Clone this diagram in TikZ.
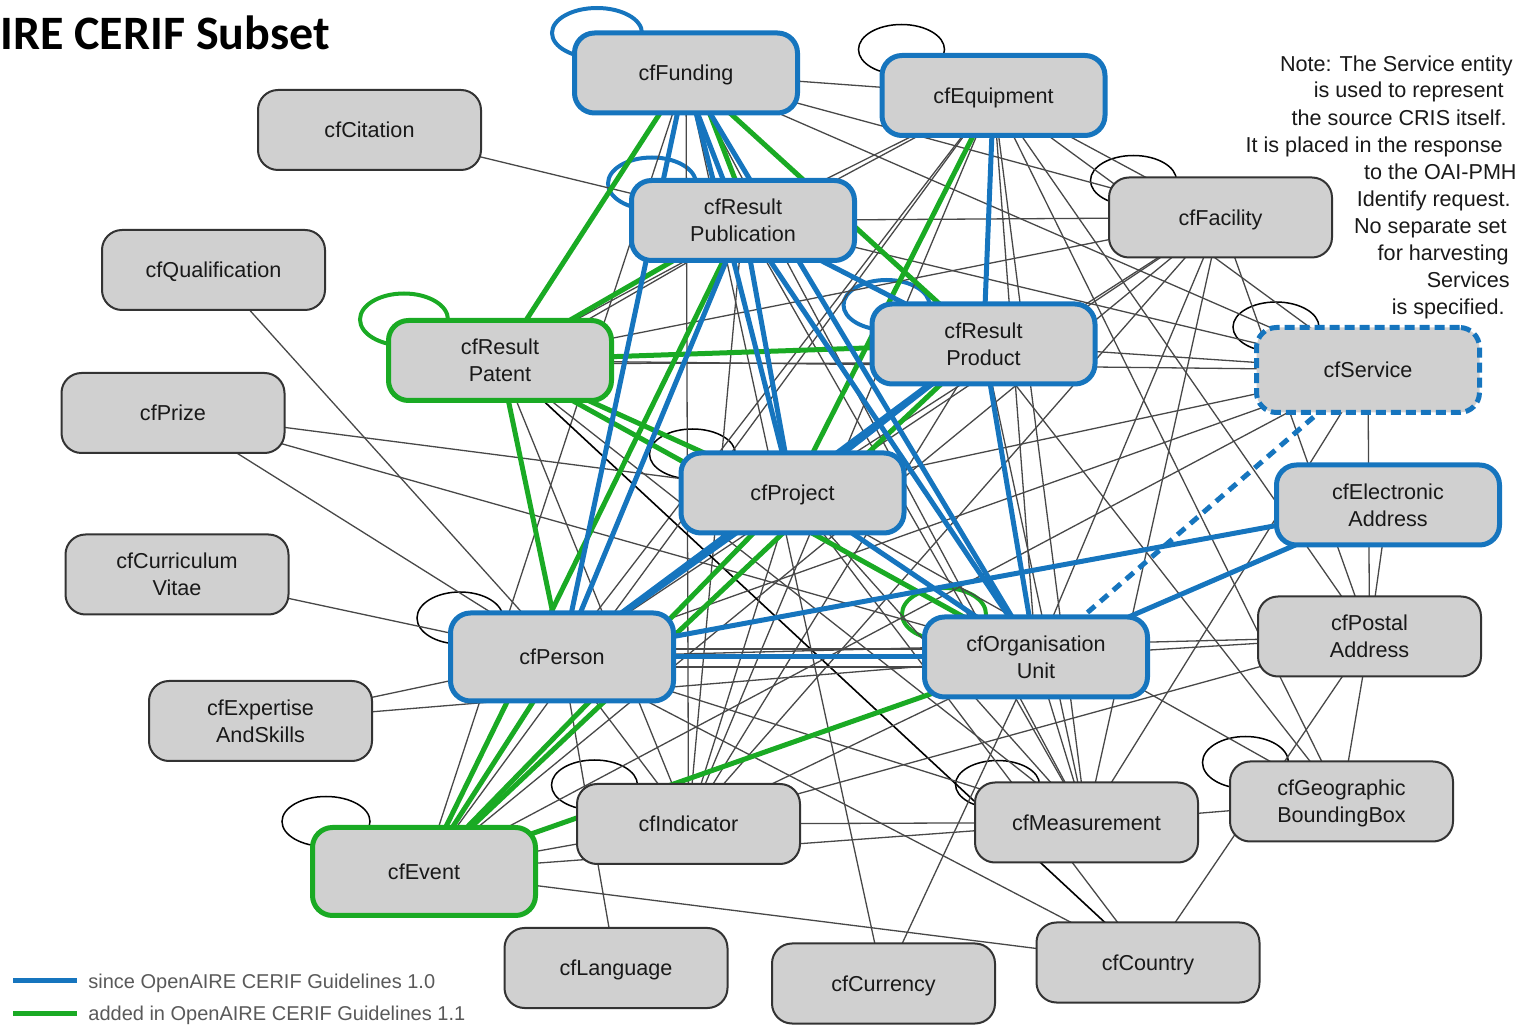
\documentclass[tikz,border=0pt]{standalone}
\usepackage{fontspec}
\setmainfont{Liberation Sans}
\newfontfamily\titlefont{Carlito}
\usetikzlibrary{backgrounds}
\definecolor{cblue}{RGB}{22,117,190}
\definecolor{cgreen}{RGB}{26,170,36}
\definecolor{boxfill}{RGB}{208,208,208}
\definecolor{boxline}{RGB}{51,51,51}
\definecolor{edgegray}{RGB}{72,72,72}
\definecolor{legendtext}{RGB}{89,89,89}
\newcommand\cfnodefont{\fontsize{10.8}{13.5}\selectfont}
\newcommand\Lk[3]{\draw[#1] (#2.center) -- (#3.center);}
\begin{document}
\begin{tikzpicture}[x=0.5pt,y=-0.5pt,
  box/.style={rounded corners=10pt, fill=boxfill, minimum width=111.5pt, minimum height=40pt, inner sep=0pt, align=center, font=\cfnodefont, text=black!90, text height=7.7pt, text depth=0pt},
  twol/.style={text height=21.2pt},
  gbox/.style={box, draw=boxline, line width=1pt},
  bbox/.style={box, draw=cblue, line width=2.5pt},
  grbox/.style={box, draw=cgreen, line width=2.5pt},
  sbox/.style={box, draw=cblue, line width=2.5pt, dash pattern=on 5pt off 2.5pt},
  ge/.style={draw=edgegray, line width=0.65pt},
  de/.style={draw=black, line width=0.8pt},
  be/.style={draw=cblue, line width=2.5pt},
  gre/.style={draw=cgreen, line width=2.5pt},
  bde/.style={draw=cblue, line width=2.5pt, dash pattern=on 5pt off 3.5pt},
  loopk/.style={draw=black, line width=0.75pt},
  loopb/.style={draw=cblue, line width=2pt},
  loopg/.style={draw=cgreen, line width=2pt},
  note/.style={anchor=base east, inner sep=0pt, font=\cfnodefont, text=black!90},
  legtext/.style={anchor=base west, inner sep=0pt, font=\fontsize{10}{12}\selectfont, text=legendtext}
]
\useasboundingbox (0,0) rectangle (1523,1026);

% title
\node[anchor=base west, inner sep=0pt, font=\titlefont\bfseries\fontsize{24}{28}\selectfont] (title) at (0,50) {IRE CERIF Subset};

% nodes
\node[bbox] (fund) at (686,73) {cfFunding};
\node[bbox] (equip) at (993.5,95.5) {cfEquipment};
\node[gbox] (cit) at (369.5,130) {cfCitation};
\node[bbox, twol] (pub) at (743,220.5) {cfResult\\Publication};
\node[gbox] (fac) at (1220.5,217.5) {cfFacility};
\node[gbox] (qual) at (213.5,270) {cfQualification};
\node[grbox, twol] (pat) at (500,360.5) {cfResult\\Patent};
\node[bbox, twol] (prod) at (983.5,344) {cfResult\\Product};
\node[sbox, minimum height=42.5pt] (serv) at (1368,370) {cfService};
\node[gbox] (prize) at (173,413) {cfPrize};
\node[bbox] (proj) at (792.5,493) {cfProject};
\node[bbox, twol] (elec) at (1388,505) {cfElectronic\\Address};
\node[gbox, twol] (cv) at (177,574.5) {cfCurriculum\\Vitae};
\node[bbox, minimum height=44pt] (pers) at (562,657) {cfPerson};
\node[bbox, twol] (org) at (1036,657) {cfOrganisation\\Unit};
\node[gbox, twol] (post) at (1369.5,636.5) {cfPostal\\Address};
\node[gbox, twol] (exp) at (260.5,721) {cfExpertise\\AndSkills};
\node[gbox] (ind) at (688.5,824) {cfIndicator};
\node[gbox] (meas) at (1086.5,822.5) {cfMeasurement};
\node[gbox, twol] (geo) at (1341.5,801.5) {cfGeographic\\BoundingBox};
\node[grbox, minimum height=44pt] (event) at (424,871.5) {cfEvent};
\node[gbox] (lang) at (616,968) {cfLanguage};
\node[gbox] (curr) at (883.5,983.5) {cfCurrency};
\node[gbox] (country) at (1148,962.5) {cfCountry};

% note
\node[note] (n1) at (1513,72) {Note: The Service entity};
\node[note] (n2) at (1504,98) {is used to represent};
\node[note] (n3) at (1507,126) {the source CRIS itself.};
\node[note] (n4) at (1503,153) {It is placed in the response};
\node[note] (n5) at (1517,180) {to the OAI-PMH};
\node[note] (n6) at (1511,207) {Identify request.};
\node[note] (n7) at (1507,234) {No separate set};
\node[note] (n8) at (1509,261) {for harvesting};
\node[note] (n9) at (1510,288) {Services};
\node[note] (n10) at (1505,315) {is specified.};

% legend
\coordinate (lb1) at (13,980);
\coordinate (lb2) at (77,980);
\coordinate (lg1) at (13,1013);
\coordinate (lg2) at (77,1013);
\draw[be] (lb1) -- (lb2);
\draw[gre] (lg1) -- (lg2);
\node[legtext] (leg1) at (88,988) {since OpenAIRE CERIF Guidelines 1.0};
\node[legtext] (leg2) at (88,1021) {added in OpenAIRE CERIF Guidelines 1.1};

\begin{scope}[on background layer]
% self loops
\draw[loopb] ([shift={(-89,-40)}]fund.center) ellipse [x radius=45, y radius=25];
\draw[loopk] ([shift={(-92,-46)}]equip.center) ellipse [x radius=43, y radius=25];
\draw[loopb] ([shift={(-91,-37)}]pub.center) ellipse [x radius=44, y radius=26];
\draw[loopk] ([shift={(-87,-37)}]fac.center) ellipse [x radius=43, y radius=25];
\draw[loopg] ([shift={(-96,-41)}]pat.center) ellipse [x radius=44, y radius=26];
\draw[loopb] ([shift={(-97,-39)}]prod.center) ellipse [x radius=43, y radius=25];
\draw[loopk] ([shift={(-92,-43)}]serv.center) ellipse [x radius=43, y radius=25];
\draw[loopk] ([shift={(-100,-39)}]proj.center) ellipse [x radius=43, y radius=25];
\draw[loopk] ([shift={(-102,-39)}]pers.center) ellipse [x radius=43, y radius=26];
\draw[loopg] ([shift={(-92,-43)}]org.center) ellipse [x radius=42, y radius=26];
\draw[loopk] ([shift={(-94,-39)}]ind.center) ellipse [x radius=43, y radius=25];
\draw[loopk] ([shift={(-89,-38)}]meas.center) ellipse [x radius=42, y radius=24];
\draw[loopk] ([shift={(-96,-39)}]geo.center) ellipse [x radius=43, y radius=26];
\draw[loopk] ([shift={(-98,-50)}]event.center) ellipse [x radius=44, y radius=25];

% gray edges
\Lk{ge}{fund}{equip} \Lk{ge}{fund}{fac} \Lk{ge}{fund}{serv} \Lk{ge}{fund}{ind}
\Lk{ge}{fund}{curr} \Lk{ge}{fund}{meas} \Lk{ge}{fund}{event}
\Lk{ge}{equip}{pub} \Lk{ge}{equip}{pat} \Lk{ge}{equip}{pers} \Lk{ge}{equip}{ind}
\Lk{ge}{equip}{org} \Lk{ge}{equip}{meas} \Lk{ge}{equip}{serv} \Lk{ge}{equip}{fac}
\Lk{ge}{equip}{geo} \Lk{ge}{equip}{post}
\Lk{ge}{cit}{pub}
\Lk{ge}{pub}{fac} \Lk{ge}{pub}{serv} \Lk{ge}{pub}{meas} \Lk{ge}{pub}{ind}
\draw[ge] ([shift={(10,4)}]pub.center) -- ([shift={(10,4)}]pat.center);
\Lk{ge}{fac}{pat} \Lk{ge}{fac}{proj} \Lk{ge}{fac}{pers} \Lk{ge}{fac}{event}
\Lk{ge}{fac}{ind} \Lk{ge}{fac}{org} \Lk{ge}{fac}{meas} \Lk{ge}{fac}{post}
\Lk{ge}{prod}{serv} \Lk{ge}{prod}{geo} \Lk{ge}{prod}{ind} \Lk{ge}{prod}{meas}
\draw[ge] ([shift={(0,3)}]pat.center) -- ([shift={(0,19)}]prod.center);
\Lk{ge}{pat}{serv} \Lk{ge}{pat}{ind} \Lk{ge}{pat}{meas}
\Lk{de}{pat}{country}
\Lk{ge}{serv}{proj} \Lk{ge}{serv}{pers} \Lk{ge}{serv}{meas} \Lk{ge}{serv}{post}
\Lk{ge}{serv}{event}
\Lk{ge}{proj}{prize} \Lk{ge}{proj}{ind} \Lk{ge}{proj}{meas} \Lk{ge}{proj}{country}
\Lk{ge}{proj}{geo}
\Lk{ge}{pers}{qual} \Lk{ge}{pers}{prize} \Lk{ge}{pers}{cv} \Lk{ge}{pers}{exp}
\Lk{ge}{pers}{country} \Lk{ge}{pers}{lang} \Lk{ge}{pers}{ind} \Lk{ge}{pers}{meas}
\Lk{ge}{pers}{post}
\draw[ge] ([shift={(0,-8)}]pers.center) -- ([shift={(0,-8)}]org.center);
\draw[ge] ([shift={(0,10)}]pers.center) -- ([shift={(0,10)}]org.center);
\Lk{ge}{org}{prize} \Lk{ge}{org}{exp} \Lk{ge}{org}{post} \Lk{ge}{org}{ind}
\Lk{ge}{org}{meas} \Lk{ge}{org}{curr}
\Lk{ge}{ind}{meas} \Lk{ge}{ind}{event} \Lk{ge}{ind}{post}
\Lk{ge}{meas}{geo} \Lk{ge}{meas}{event}
\Lk{ge}{event}{country} \Lk{ge}{event}{equip}
\Lk{ge}{geo}{post}
\Lk{ge}{post}{elec} \Lk{ge}{post}{country}

% green edges
\Lk{gre}{fund}{pat} \Lk{gre}{fund}{prod}
\draw[gre] ([shift={(8,0)}]fund.center) -- ([shift={(8,0)}]pub.center);
\Lk{gre}{pub}{pat} \Lk{gre}{pat}{prod} \Lk{gre}{pat}{proj} \Lk{gre}{pat}{org}
\Lk{gre}{pat}{pers} \Lk{gre}{equip}{proj}
\Lk{gre}{event}{pub} \Lk{gre}{event}{pers} \Lk{gre}{event}{proj} \Lk{gre}{event}{prod}
\Lk{gre}{event}{org}

% blue edges
\Lk{be}{fund}{pers} \Lk{be}{fund}{proj}
\draw[be] ([shift={(-4,0)}]fund.center) -- ([shift={(-4,0)}]pub.center);
\Lk{be}{fund}{org}
\Lk{be}{pub}{pers} \Lk{be}{pub}{proj} \Lk{be}{pub}{org} \Lk{be}{pub}{prod}
\Lk{be}{proj}{pers} \Lk{be}{prod}{pers} \Lk{be}{prod}{org} \Lk{be}{proj}{org}
\Lk{be}{prod}{proj} \Lk{be}{equip}{prod}
\Lk{be}{pers}{org} \Lk{be}{pers}{elec} \Lk{be}{org}{elec}
\Lk{bde}{org}{serv}
\end{scope}
\end{tikzpicture}
\end{document}
